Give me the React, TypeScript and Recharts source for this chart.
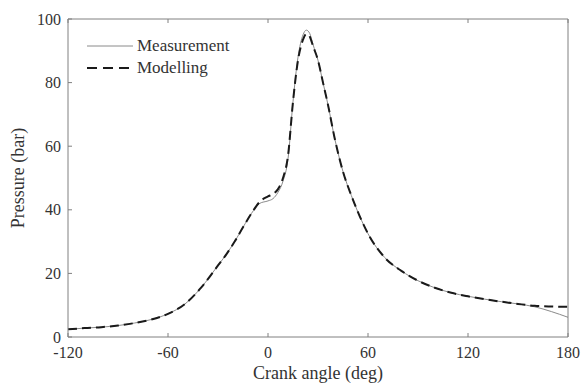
import React from "react";
import { LineChart, Line, XAxis, YAxis } from "recharts";

// Cylinder pressure over the crank angle: measured trace and model prediction
const crankAngle = [
    -120, -110, -100, -90, -80, -70, -60, -50, -40, -30, -25, -20, -15, -10, -5,
    0, 3, 6, 9, 12, 15, 18, 21, 23, 25, 27, 30, 33, 36, 40, 45, 50, 55, 60,
    70, 80, 90, 100, 110, 120, 130, 140, 150, 160, 170, 180,
];
const measured = [
    2.4, 2.8, 3.1, 3.6, 4.4, 5.5, 7.3, 10.3, 15.6, 22.5, 26, 30, 34.5, 38.8, 42,
    42.8, 43.5, 45.5, 49, 56, 74, 88, 95, 96.5, 95.5, 92, 87, 80, 73, 62.5, 52, 44.5, 38, 32.5,
    25, 20.8, 17.7, 15.5, 13.9, 12.8, 11.9, 11.1, 10.4, 9.5, 8, 6.2,
];
const modelled = [
    2.4, 2.8, 3.1, 3.6, 4.4, 5.5, 7.3, 10.3, 15.6, 22.5, 26, 30, 34.5, 38.8, 42.5,
    44.2, 45, 46.5, 50, 57, 74, 87, 93.5, 95.3, 94.5, 91.5, 87, 80, 73, 62.5, 52, 44.5, 38, 32.5,
    25, 20.8, 17.7, 15.5, 13.9, 12.8, 11.9, 11.1, 10.4, 9.8, 9.6, 9.5,
];
const angleTicks = [-120, -60, 0, 60, 120, 180];
const pressureTicks = [0, 20, 40, 60, 80, 100];

const data = crankAngle.map((deg, i) => ({
    deg,
    measured: measured[i],
    modelled: modelled[i],
}));

const serif = "'Liberation Serif', 'DejaVu Serif', serif";
const axisGrey = "#808080";
const textColour = "#333";
const measuredColour = "#8a8a8a";
const modelledColour = "#1a1a1a";

// top/right frame axes only carry tick marks
const noLabel = () => <g />;

const PlotLegend = () => (
    <div
        style={{
            position: "absolute",
            top: 35,
            left: 87,
            fontFamily: serif,
            fontSize: 17,
            color: textColour,
            lineHeight: "22px",
        }}
    >
        <div style={{ display: "flex", alignItems: "center" }}>
            <svg width={50} height={10}>
                <line x1={0} x2={46} y1={5} y2={5} stroke={measuredColour} strokeWidth={1} />
            </svg>
            <span>Measurement</span>
        </div>
        <div style={{ display: "flex", alignItems: "center" }}>
            <svg width={50} height={10}>
                <line x1={0} x2={46} y1={5} y2={5} stroke={modelledColour} strokeWidth={2} strokeDasharray="10 6" />
            </svg>
            <span>Modelling</span>
        </div>
    </div>
);

export default function App() {
    return (
        <div style={{ position: "absolute", top: 0, left: 0, background: "#fff" }}>
            <LineChart width={582} height={386} data={data} margin={{ top: 18, right: 13, bottom: 0, left: 0 }}>
                <XAxis
                    xAxisId="bottom"
                    dataKey="deg"
                    type="number"
                    domain={[-120, 180]}
                    ticks={angleTicks}
                    height={49}
                    stroke={axisGrey}
                    tickSize={-4}
                    tickMargin={14}
                    tick={{ fill: textColour, fontSize: 16, fontFamily: serif }}
                    label={{
                        value: "Crank angle (deg)",
                        position: "insideBottom",
                        offset: 7,
                        style: { fill: textColour, fontSize: 18, fontFamily: serif },
                    }}
                />
                <XAxis
                    xAxisId="top"
                    orientation="top"
                    dataKey="deg"
                    type="number"
                    domain={[-120, 180]}
                    ticks={angleTicks}
                    height={1}
                    stroke={axisGrey}
                    tickSize={-4}
                    tick={noLabel}
                />
                <YAxis
                    yAxisId="left"
                    type="number"
                    domain={[0, 100]}
                    ticks={pressureTicks}
                    width={68}
                    stroke={axisGrey}
                    tickSize={-4}
                    tickMargin={11}
                    tick={{ fill: textColour, fontSize: 16, fontFamily: serif }}
                    label={{
                        value: "Pressure (bar)",
                        angle: -90,
                        position: "insideLeft",
                        offset: 18,
                        style: { fill: textColour, fontSize: 18, fontFamily: serif, textAnchor: "middle" },
                    }}
                />
                <YAxis
                    yAxisId="right"
                    orientation="right"
                    type="number"
                    domain={[0, 100]}
                    ticks={pressureTicks}
                    width={1}
                    stroke={axisGrey}
                    tickSize={-4}
                    tick={noLabel}
                />
                <Line
                    xAxisId="bottom"
                    yAxisId="left"
                    type="monotone"
                    dataKey="measured"
                    stroke={measuredColour}
                    strokeWidth={1}
                    dot={false}
                    isAnimationActive={false}
                />
                <Line
                    xAxisId="bottom"
                    yAxisId="left"
                    type="monotone"
                    dataKey="modelled"
                    stroke={modelledColour}
                    strokeWidth={2}
                    strokeDasharray="9 5"
                    dot={false}
                    isAnimationActive={false}
                />
            </LineChart>
            <PlotLegend />
        </div>
    );
}
